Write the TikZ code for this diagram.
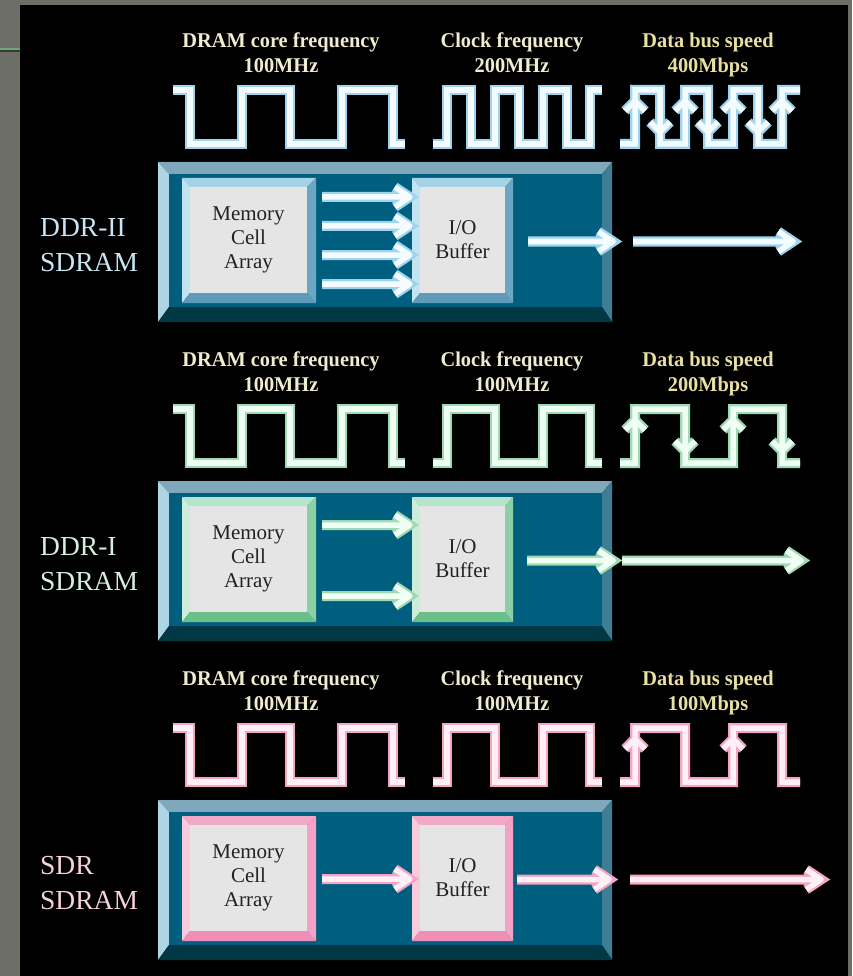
\documentclass[tikz,border=0pt]{standalone}
\usepackage{fontspec}
\setmainfont{Liberation Serif}
\newfontfamily\hdrfont[FakeStretch=0.97]{Liberation Serif}
\usetikzlibrary{calc}

\definecolor{bggray}{HTML}{6D6E65}
\definecolor{edgegreen}{HTML}{6EA877}
\definecolor{edgedark}{HTML}{3A3A36}
\definecolor{modtopc}{HTML}{7FA8BC}
\definecolor{modleftc}{HTML}{AED4E6}
\definecolor{modrightc}{HTML}{3E7D94}
\definecolor{modbotc}{HTML}{003944}
\definecolor{modfacec}{HTML}{005E7E}
\definecolor{facegray}{HTML}{E5E5E5}
\definecolor{facetext}{HTML}{222222}
\definecolor{hdrA}{HTML}{F0ECCF}
\definecolor{hdrB}{HTML}{EAE0A2}
% DDR-II theme (blue)
\definecolor{glowB}{HTML}{9ED4EE}
\definecolor{coreB}{HTML}{F5FCFF}
\definecolor{itopB}{HTML}{A4D3E8}
\definecolor{ileftB}{HTML}{C2E4F2}
\definecolor{irightB}{HTML}{6BA6C3}
\definecolor{ibotB}{HTML}{5E9BB9}
\definecolor{labB}{HTML}{C8E6F2}
% DDR-I theme (green)
\definecolor{glowG}{HTML}{9FDAB4}
\definecolor{coreG}{HTML}{F0FFF4}
\definecolor{itopG}{HTML}{B4E4CA}
\definecolor{ileftG}{HTML}{CBEDD9}
\definecolor{irightG}{HTML}{8BD0A4}
\definecolor{ibotG}{HTML}{6AC088}
\definecolor{labG}{HTML}{D6EEDD}
% SDR theme (pink)
\definecolor{glowP}{HTML}{F4A4C6}
\definecolor{coreP}{HTML}{FFF0F6}
\definecolor{itopP}{HTML}{F4A8C8}
\definecolor{ileftP}{HTML}{F8CADC}
\definecolor{irightP}{HTML}{F2A2C4}
\definecolor{ibotP}{HTML}{F08EB8}
\definecolor{labP}{HTML}{F4D0E0}

\tikzset{
  wave/.style={draw=core#1, line width=5.5pt, line join=miter, line cap=butt,
    preaction={draw=glow#1, line width=10pt}},
  fatarrow/.style={wave=#1, line join=round},
  hdr/.style={font=\hdrfont\bfseries\fontsize{21}{24.5}\selectfont, align=center, inner sep=0pt, anchor=north},
  lab/.style={font=\fontsize{27.5}{35}\selectfont, align=left, inner sep=0pt, anchor=north west},
  face/.style={fill=facegray, text=facetext, inner sep=0pt, font=\fontsize{21}{24}\selectfont, align=center},
  modface/.style={fill=modfacec, inner sep=0pt},
}

% bevelled rectangle: x1 y1 x2 y2, depths top left right bottom; colours from styles btop bleft bright bbot
\newcommand\bevelrect[8]{%
  \fill[btop] (#1,#2) -- (#3,#2) -- (#3-#7,#2+#5) -- (#1+#6,#2+#5) -- cycle;
  \fill[bleft] (#1,#2) -- (#1+#6,#2+#5) -- (#1+#6,#4-#8) -- (#1,#4) -- cycle;
  \fill[bright] (#3,#2) -- (#3,#4) -- (#3-#7,#4-#8) -- (#3-#7,#2+#5) -- cycle;
  \fill[bbot] (#1,#4) -- (#3,#4) -- (#3-#7,#4-#8) -- (#1+#6,#4-#8) -- cycle;
}
% fat horizontal arrow from named coordinate #1 to named tip #2, theme #3
\newcommand\harrow[3]{%
  \draw[fatarrow=#3] (#1) -- ($(#2)+(-3,0)$) ($(#2)+(-15,-10)$) -- (#2) -- ($(#2)+(-15,10)$);
}

\begin{document}
\begin{tikzpicture}[x=1pt,y=-1pt]
\useasboundingbox (0,0) rectangle (852,976);
\fill[bggray] (0,0) rectangle (852,976);
\fill[edgegreen] (0,47.7) rectangle (20,49.7);
\fill[edgedark] (0,49.7) rectangle (20,52.5);
\fill[black] (20,5) rectangle (848,976);

\foreach \i/\oy/\th/\nm/\cf/\db/\is/\it/\es/\et in
  {1/0/B/DDR-II/200MHz/400Mbps/23/108/128/288,
   2/319/G/DDR-I/100MHz/200Mbps/22/108/117/296,
   3/638/P/SDR/100MHz/100Mbps/12/104/125/316}{
  \begin{scope}[shift={(0,\oy)}]
    % headers
    \node[hdr, text=hdrA] (hcore\i) at (281,33) {DRAM core frequency\\100MHz};
    \node[hdr, text=hdrA] (hclk\i) at (512,33) {Clock frequency\\\cf};
    \node[hdr, text=hdrB] (hbus\i) at (708,33) {Data bus speed\\\db};
    % side label
    \node[lab, text=lab\th] (lab\i) at (40,218.5) {\nm\\SDRAM};
    % module frame
    \begin{scope}[btop/.style={fill=modtopc}, bleft/.style={fill=modleftc},
                  bright/.style={fill=modrightc}, bbot/.style={fill=modbotc}]
      \bevelrect{158}{162}{612}{322}{12}{11}{10}{15}
    \end{scope}
    \node[modface, minimum width=433pt, minimum height=133pt] (mod\i) at (385.5,240.5) {};
    % inner boxes
    \begin{scope}[btop/.style={fill=itop\th}, bleft/.style={fill=ileft\th},
                  bright/.style={fill=iright\th}, bbot/.style={fill=ibot\th}]
      \bevelrect{182}{178}{316}{303}{9}{8}{9}{10}
      \bevelrect{412}{178}{513}{303}{9}{8}{8}{10}
    \end{scope}
    \node[face, minimum width=117pt, minimum height=106pt] (mem\i) at (248.5,240) {Memory\\Cell\\Array};
    \node[face, minimum width=85pt, minimum height=106pt] (io\i) at (462.5,240) {I/O\\Buffer};
    % DRAM core waveform
    \draw[wave=\th] (173,90) -- (190,90) -- (190,144) -- (242,144) -- (242,90) -- (290,90)
      -- (290,144) -- (342,144) -- (342,90) -- (393,90) -- (393,144) -- (405,144);
    % output arrows
    \coordinate (os\i) at ($(io\i.east)+(\is,1.5)$);
    \coordinate (ot\i) at ($(io\i.east)+(\it,1.5)$);
    \coordinate (xs\i) at ($(io\i.east)+(\es,1.5)$);
    \coordinate (xt\i) at ($(io\i.east)+(\et,1.5)$);
    \harrow{os\i}{ot\i}{\th}
    \harrow{xs\i}{xt\i}{\th}
  \end{scope}
}

% ---------- DDR-II ----------
\draw[wave=B] (433,144) -- (447,144) -- (447,90) -- (471,90) -- (471,144) -- (495,144) -- (495,90)
  -- (519,90) -- (519,144) -- (543,144) -- (543,90) -- (567,90) -- (567,144) -- (590,144)
  -- (590,90) -- (602,90);
\draw[wave=B] (620,144) -- (635,144) -- (635,90) -- (660,90) -- (660,144) -- (685,144) -- (685,90)
  -- (708,90) -- (708,144) -- (733,144) -- (733,90) -- (758,90) -- (758,144) -- (782,144)
  -- (782,90) -- (800,90)
  (625,111) -- (635,101) -- (645,111)
  (675,111) -- (685,101) -- (695,111)
  (723,111) -- (733,101) -- (743,111)
  (772,111) -- (782,101) -- (792,111)
  (650,122) -- (660,132) -- (670,122)
  (698,122) -- (708,132) -- (718,122)
  (748,122) -- (758,132) -- (768,122);
\foreach \k/\dy in {1/-43,2/-14,3/15,4/44}{
  \coordinate (s1\k) at ($(mem1.east)+(15,\dy)$);
  \coordinate (e1\k) at ($(io1.west)+(-10,\dy)$);
  \harrow{s1\k}{e1\k}{B}
}

% ---------- DDR-I ----------
\begin{scope}[shift={(0,319)}]
\draw[wave=G] (433,144) -- (447,144) -- (447,90) -- (495,90) -- (495,144) -- (543,144)
  -- (543,90) -- (590,90) -- (590,144) -- (602,144);
\draw[wave=G] (620,144) -- (635,144) -- (635,90) -- (685,90) -- (685,144) -- (733,144)
  -- (733,90) -- (782,90) -- (782,144) -- (800,144)
  (625,111) -- (635,101) -- (645,111)
  (723,111) -- (733,101) -- (743,111)
  (675,122) -- (685,132) -- (695,122)
  (772,122) -- (782,132) -- (792,122);
\end{scope}
\foreach \k/\dy in {1/-34,2/37}{
  \coordinate (s2\k) at ($(mem2.east)+(15,\dy)$);
  \coordinate (e2\k) at ($(io2.west)+(-10,\dy)$);
  \harrow{s2\k}{e2\k}{G}
}

% ---------- SDR ----------
\begin{scope}[shift={(0,638)}]
\draw[wave=P] (433,144) -- (447,144) -- (447,90) -- (495,90) -- (495,144) -- (543,144)
  -- (543,90) -- (590,90) -- (590,144) -- (602,144);
\draw[wave=P] (620,144) -- (635,144) -- (635,90) -- (685,90) -- (685,144) -- (733,144)
  -- (733,90) -- (782,90) -- (782,144) -- (800,144)
  (625,111) -- (635,101) -- (645,111)
  (723,111) -- (733,101) -- (743,111);
\end{scope}
\coordinate (s31) at ($(mem3.east)+(15,1)$);
\coordinate (e31) at ($(io3.west)+(-10,1)$);
\harrow{s31}{e31}{P}

\end{tikzpicture}
\end{document}
